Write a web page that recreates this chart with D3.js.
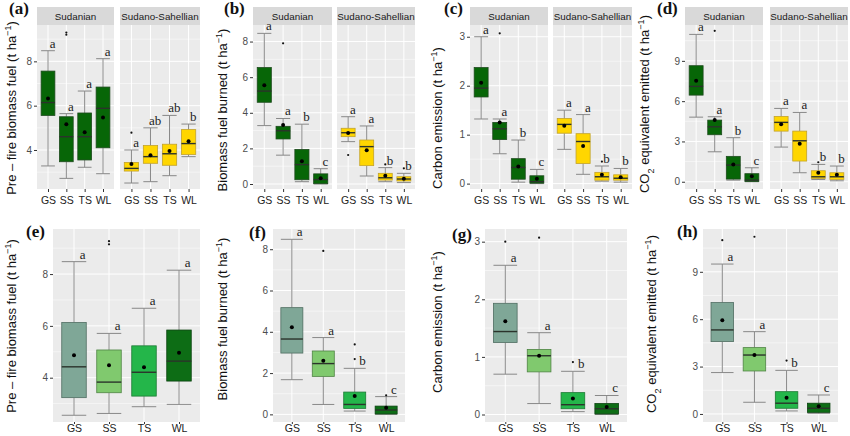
<!DOCTYPE html>
<html>
<head>
<meta charset="utf-8">
<script src="https://cdn.jsdelivr.net/npm/d3@7.9.0/dist/d3.min.js"></script>
<style>
  body { margin: 0; background: #fff; }
  svg { display: block; font-family: Arial, "Liberation Sans", sans-serif; }
</style>
</head>
<body>
<svg id="chart" width="850" height="436"></svg>
<script>
const groups = ["GS", "SS", "TS", "WL"];
const zones = ["Sudanian", "Sudano-Sahellian"];

// box stats: [lower whisker, q1, median, q3, upper whisker]
// top panels: first 4 = Sudanian, last 4 = Sudano-Sahellian
const preFireBox = [
  [3.28, 5.56, 6.14, 7.56, 8.48], [2.72, 3.47, 4.6, 5.5, 5.64], [3.22, 3.55, 4.6, 5.67, 6.66], [2.93, 4.1, 5.88, 6.84, 8.12],
  [2.51, 3.05, 3.17, 3.44, 4.0], [2.57, 3.4, 3.7, 4.2, 5.0], [2.84, 3.31, 3.83, 4.26, 5.56], [3.7, 3.8, 4.29, 4.92, 5.17]
];
const preFireMean = [6.32, 5.16, 4.8, 5.47, 3.37, 3.76, 3.95, 4.39];
const preFireOut = [[], [9.2, 9.3], [], [], [4.78], [], [], []];
const preFireLetters = ["a", "a", "a", "a", "a", "ab", "ab", "b"];

const burnedBox = [
  [3.28, 4.59, 5.22, 6.54, 8.46], [1.62, 2.53, 2.99, 3.24, 3.68], [0.13, 0.24, 1.09, 1.94, 3.36], [0, 0.02, 0.25, 0.57, 0.86],
  [2.38, 2.66, 2.88, 3.13, 3.78], [0.45, 1.03, 2.1, 2.47, 3.26], [0.13, 0.22, 0.35, 0.6, 0.92], [0.08, 0.17, 0.28, 0.41, 0.6]
];
const burnedMean = [5.54, 3.32, 1.28, 0.32, 2.86, 1.89, 0.47, 0.3];
const burnedOut = [[], [7.9], [], [], [1.63], [], [1.1], [0.88]];
const burnedLetters = ["a", "a", "b", "c", "a", "a", "b", "b"];

const carbonBox = [
  [1.32, 1.77, 1.95, 2.37, 3.0], [0.61, 0.9, 1.12, 1.25, 1.32], [0.03, 0.09, 0.33, 0.51, 0.89], [0, 0.01, 0.04, 0.16, 0.29],
  [0.7, 1.03, 1.21, 1.33, 1.5], [0.19, 0.41, 0.86, 1.02, 1.41], [0.05, 0.07, 0.14, 0.23, 0.36], [0.03, 0.07, 0.11, 0.18, 0.31]
];
const carbonMean = [2.06, 1.25, 0.35, 0.1, 1.18, 0.77, 0.18, 0.13];
const carbonOut = [[], [3.07], [], [], [], [], [0.45], []];
const carbonLetters = ["a", "a", "b", "c", "a", "a", "b", "b"];

const co2Box = [
  [4.81, 6.45, 7.1, 8.64, 10.97], [2.23, 3.5, 4.09, 4.59, 4.84], [0.12, 0.2, 1.24, 1.89, 3.28], [0, 0.02, 0.12, 0.6, 1.04],
  [2.58, 3.77, 4.42, 4.86, 5.46], [0.67, 1.54, 3.05, 3.77, 5.16], [0.17, 0.25, 0.37, 0.82, 1.29], [0.07, 0.17, 0.37, 0.67, 1.17]
];
const co2Mean = [7.52, 4.59, 1.29, 0.4, 4.29, 2.83, 0.67, 0.52];
const co2Out = [[], [11.24], [], [], [], [], [1.45], []];
const co2Letters = ["a", "a", "b", "c", "a", "a", "b", "b"];

// bottom panels: both zones pooled
const preFireAllBox = [[2.55, 3.23, 4.42, 6.13, 8.48], [2.62, 3.42, 3.83, 5.07, 5.71], [2.88, 3.29, 4.21, 5.23, 6.68], [2.97, 3.87, 4.64, 5.84, 8.15]];
const preFireAllMean = [4.87, 4.48, 4.4, 4.96];
const preFireAllOut = [[], [9.15, 9.27], [], []];
const preFireAllLetters = ["a", "a", "a", "a"];

const burnedAllBox = [[1.68, 2.97, 3.65, 5.17, 8.48], [0.48, 1.84, 2.46, 3.07, 3.72], [0.16, 0.29, 0.48, 1.08, 2.23], [0, 0.02, 0.21, 0.4, 0.86]];
const burnedAllMean = [4.22, 2.6, 0.89, 0.32];
const burnedAllOut = [[], [7.92], [2.68, 3.39], [0.92]];
const burnedAllLetters = ["a", "a", "b", "c"];

const carbonAllBox = [[0.7, 1.25, 1.44, 1.93, 2.59], [0.19, 0.74, 1.02, 1.13, 1.42], [0.05, 0.1, 0.17, 0.38, 0.75], [0, 0.01, 0.1, 0.19, 0.33]];
const carbonAllMean = [1.62, 1.02, 0.28, 0.13];
const carbonAllOut = [[3.0], [3.07], [0.91], []];
const carbonAllLetters = ["a", "a", "b", "c"];

const co2AllBox = [[2.62, 4.58, 5.32, 7.05, 9.49], [0.74, 2.72, 3.73, 4.2, 5.21], [0.19, 0.36, 0.68, 1.41, 2.76], [0.04, 0.1, 0.36, 0.68, 1.2]];
const co2AllMean = [5.93, 3.73, 1.03, 0.49];
const co2AllOut = [[11.0], [11.22], [3.38], []];
const co2AllLetters = ["a", "a", "b", "c"];

const sudFill = "#076607", sudLine = "#1d4a1d";
const sahFill = "#FFD600", sahLine = "#c2a22a";
const allFill = ["#7fa797", "#80c96e", "#24b64a", "#0d6d15"];
const allLine = ["#4f6d61", "#4f8444", "#1b7a33", "#0b4210"];

const svg = d3.select("#chart");

function drawPanel(p) {
  const y = d3.scaleLinear().domain(p.domain).range([p.y1, p.y0]);
  const g = svg.append("g");
  p.facets.forEach((f, fi) => {
    const x = d3.scaleLinear().domain([0.4, 4.6]).range(f.range);
    // panel background and grid
    g.append("rect").attr("x", f.range[0]).attr("y", p.y0)
      .attr("width", f.range[1] - f.range[0]).attr("height", p.y1 - p.y0).attr("fill", "#EBEBEB");
    p.minor.forEach(v => {
      g.append("line").attr("x1", f.range[0]).attr("x2", f.range[1]).attr("y1", y(v)).attr("y2", y(v))
        .attr("stroke", "#fff").attr("stroke-width", 0.5);
    });
    p.ticks.forEach(v => {
      g.append("line").attr("x1", f.range[0]).attr("x2", f.range[1]).attr("y1", y(v)).attr("y2", y(v))
        .attr("stroke", "#fff").attr("stroke-width", 1);
    });
    groups.forEach((gr, i) => {
      g.append("line").attr("x1", x(i + 1)).attr("x2", x(i + 1)).attr("y1", p.y0).attr("y2", p.y1)
        .attr("stroke", "#fff").attr("stroke-width", 1);
    });
    // strip
    if (f.strip) {
      g.append("rect").attr("x", f.range[0]).attr("y", p.y0 - 18)
        .attr("width", f.range[1] - f.range[0]).attr("height", 18).attr("fill", "#D9D9D9");
      g.append("text").attr("x", (f.range[0] + f.range[1]) / 2).attr("y", p.y0 - 5.5)
        .attr("text-anchor", "middle").attr("font-size", 9.8).attr("fill", "#1a1a1a").text(f.strip);
    }
    // x axis
    const xa = g.append("g").attr("transform", `translate(0,${p.y1})`)
      .call(d3.axisBottom(x).tickValues([1, 2, 3, 4]).tickFormat(d => groups[d - 1]).tickSize(p.xTick[0]).tickPadding(p.xTick[1]));
    xa.select(".domain").remove();
    xa.selectAll("line").attr("stroke", "#333");
    xa.selectAll("text").attr("font-size", 10.5).attr("fill", "#222").attr("font-family", "Arial, 'Liberation Sans', sans-serif");

    // boxes
    const bw = (x(2) - x(1)) * p.boxW;
    groups.forEach((gr, i) => {
      const k = f.offset + i;
      const s = f.box[k];
      const cx = x(i + 1);
      const fill = f.fill ? f.fill : allFill[i];
      const line = f.line ? f.line : allLine[i];
      // whiskers
      g.append("line").attr("x1", cx).attr("x2", cx).attr("y1", y(s[0])).attr("y2", y(s[1]))
        .attr("stroke", "#888").attr("stroke-width", 1);
      g.append("line").attr("x1", cx).attr("x2", cx).attr("y1", y(s[3])).attr("y2", y(s[4]))
        .attr("stroke", "#888").attr("stroke-width", 1);
      [s[0], s[4]].forEach(v => {
        g.append("line").attr("x1", cx - bw / 2).attr("x2", cx + bw / 2).attr("y1", y(v)).attr("y2", y(v))
          .attr("stroke", "#888").attr("stroke-width", 1);
      });
      g.append("rect").attr("x", cx - bw / 2).attr("y", y(s[3])).attr("width", bw)
        .attr("height", Math.max(0.5, y(s[1]) - y(s[3]))).attr("fill", fill).attr("stroke", line).attr("stroke-width", 0.8);
      g.append("line").attr("x1", cx - bw / 2).attr("x2", cx + bw / 2).attr("y1", y(s[2])).attr("y2", y(s[2]))
        .attr("stroke", "#2b332b").attr("stroke-width", 1.4);
      f.out[k].forEach(v => {
        g.append("circle").attr("cx", cx).attr("cy", y(v)).attr("r", 1.1).attr("fill", "#111");
      });
      g.append("circle").attr("cx", cx).attr("cy", y(f.mean[k])).attr("r", 2).attr("fill", "#000");
      g.append("text").attr("x", cx + (x(2) - x(1)) * 0.25).attr("y", y(s[4]) - 3)
        .attr("text-anchor", "middle").attr("font-family", "'Liberation Serif', 'Times New Roman', serif")
        .attr("font-size", 13).attr("fill", "#222").text(f.letters[k]);
    });
  });
  // y axis on first facet
  const ya = g.append("g").attr("transform", `translate(${p.facets[0].range[0]},0)`)
    .call(d3.axisLeft(y).tickValues(p.ticks).tickFormat(d3.format("d")).tickSize(3).tickPadding(2));
  ya.select(".domain").remove();
  ya.selectAll("line").attr("stroke", "#333");
  ya.selectAll("text").attr("font-size", 10).attr("fill", "#4d4d4d").attr("font-family", "Arial, 'Liberation Sans', sans-serif");

  // y title
  const t = svg.append("text").attr("transform", `translate(${p.titleX},${p.titleY}) rotate(-90)`)
    .attr("text-anchor", "middle").attr("font-size", p.titleSize).attr("fill", "#111");
  p.title.forEach(part => {
    const ts = t.append("tspan").text(part.t);
    if (part.sup) ts.attr("baseline-shift", "super").attr("font-size", p.titleSize * 0.7);
    if (part.sub) ts.attr("baseline-shift", "sub").attr("font-size", p.titleSize * 0.7);
  });
  // panel tag
  svg.append("text").attr("x", p.tag[0]).attr("y", p.tag[1])
    .attr("font-family", "'Liberation Serif', 'Times New Roman', serif").attr("font-weight", "bold")
    .attr("font-size", 17).attr("fill", "#111").text(p.tag[2]);
}

function topFacets(box, mean, out, letters, r1, r2) {
  return [
    { range: r1, strip: zones[0], offset: 0, box, mean, out, letters, fill: sudFill, line: sudLine },
    { range: r2, strip: zones[1], offset: 4, box, mean, out, letters, fill: sahFill, line: sahLine }
  ];
}
function allFacet(box, mean, out, letters, r) {
  return [{ range: r, strip: null, offset: 0, box, mean, out, letters }];
}

const tHa = [{ t: "t ha" }, { t: "\u22121", sup: true }, { t: ")" }];
const topTick = [3, 5], botTick = [2, 1];

drawPanel({
  y0: 25, y1: 189, domain: [2.24, 9.64], ticks: [4, 6, 8], minor: [3, 5, 7, 9], boxW: 0.75, xTick: topTick,
  facets: topFacets(preFireBox, preFireMean, preFireOut, preFireLetters, [37, 114], [120, 200]),
  title: [{ t: "Pre \u2013 fire biomass fuel (" }, ...tHa], titleX: 16, titleY: 108, titleSize: 13,
  tag: [9, 14, "(a)"]
});
drawPanel({
  y0: 25, y1: 189, domain: [-0.28, 8.93], ticks: [0, 2, 4, 6, 8], minor: [1, 3, 5, 7], boxW: 0.75, xTick: topTick,
  facets: topFacets(burnedBox, burnedMean, burnedOut, burnedLetters, [253, 332], [337, 415]),
  title: [{ t: "Biomass fuel burned (" }, ...tHa], titleX: 227, titleY: 110, titleSize: 13,
  tag: [224, 14, "(b)"]
});
drawPanel({
  y0: 25, y1: 189, domain: [-0.11, 3.24], ticks: [0, 1, 2, 3], minor: [0.5, 1.5, 2.5], boxW: 0.75, xTick: topTick,
  facets: topFacets(carbonBox, carbonMean, carbonOut, carbonLetters, [470, 548], [553, 632]),
  title: [{ t: "Carbon emission  (" }, ...tHa], titleX: 442, titleY: 118, titleSize: 13,
  tag: [444, 14, "(c)"]
});
drawPanel({
  y0: 25, y1: 189, domain: [-0.54, 11.67], ticks: [0, 3, 6, 9], minor: [1.5, 4.5, 7.5, 10.5], boxW: 0.75, xTick: topTick,
  facets: topFacets(co2Box, co2Mean, co2Out, co2Letters, [685, 763], [770, 848]),
  title: [{ t: "CO" }, { t: "2", sub: true }, { t: " equivalent emitted (" }, ...tHa], titleX: 649, titleY: 104, titleSize: 13,
  tag: [657, 14, "(d)"]
});

drawPanel({
  y0: 229, y1: 422, domain: [2.29, 9.74], ticks: [4, 6, 8], minor: [3, 5, 7, 9], boxW: 0.7, xTick: botTick,
  facets: allFacet(preFireAllBox, preFireAllMean, preFireAllOut, preFireAllLetters, [53, 200]),
  title: [{ t: "Pre \u2013 fire biomass fuel (" }, ...tHa], titleX: 16, titleY: 326, titleSize: 13,
  tag: [26, 237, "(e)"]
});
drawPanel({
  y0: 229, y1: 422, domain: [-0.37, 8.98], ticks: [0, 2, 4, 6, 8], minor: [1, 3, 5, 7], boxW: 0.7, xTick: botTick,
  facets: allFacet(burnedAllBox, burnedAllMean, burnedAllOut, burnedAllLetters, [273, 405]),
  title: [{ t: "Biomass fuel burned (" }, ...tHa], titleX: 227, titleY: 319, titleSize: 13,
  tag: [249, 238, "(f)"]
});
drawPanel({
  y0: 229, y1: 422, domain: [-0.13, 3.22], ticks: [0, 1, 2, 3], minor: [0.5, 1.5, 2.5], boxW: 0.7, xTick: botTick,
  facets: allFacet(carbonAllBox, carbonAllMean, carbonAllOut, carbonAllLetters, [485, 627]),
  title: [{ t: "Carbon emission (" }, ...tHa], titleX: 442, titleY: 322, titleSize: 13,
  tag: [452, 240, "(g)"]
});
drawPanel({
  y0: 229, y1: 422, domain: [-0.51, 11.71], ticks: [0, 3, 6, 9], minor: [1.5, 4.5, 7.5, 10.5], boxW: 0.7, xTick: botTick,
  facets: allFacet(co2AllBox, co2AllMean, co2AllOut, co2AllLetters, [703, 838]),
  title: [{ t: "CO" }, { t: "2", sub: true }, { t: " equivalent emitted (" }, ...tHa], titleX: 656, titleY: 324, titleSize: 13,
  tag: [677, 237, "(h)"]
});
</script>
</body>
</html>
